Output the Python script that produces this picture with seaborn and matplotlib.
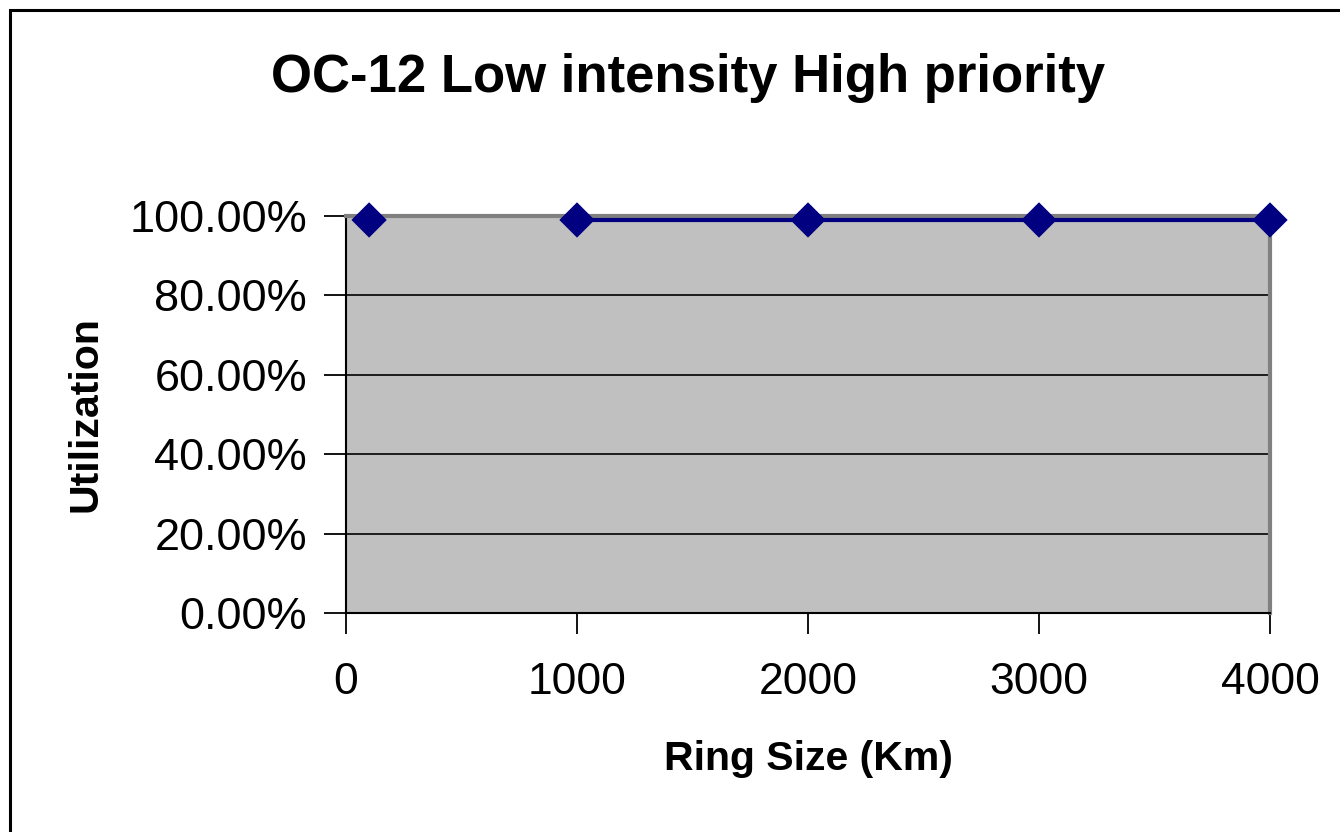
import matplotlib
matplotlib.use("Agg")
import matplotlib.pyplot as plt
import matplotlib.ticker as mticker
from matplotlib.patches import Rectangle
import seaborn as sns
import pandas as pd

# Ring sizes (km) and measured utilization
ring_size = [100, 1000, 2000, 3000, 4000]
utilization = [0.99, 0.99, 0.99, 0.99, 0.99]
# The connecting line only runs from 1000 km onward
line_from = 1

x_ticks = [0, 1000, 2000, 3000, 4000]
y_ticks = [0.0, 0.2, 0.4, 0.6, 0.8, 1.0]

sns.set_theme(style="white")
plt.rcParams["font.family"] = ["Liberation Sans", "DejaVu Sans"]
plt.rcParams["text.color"] = "black"
plt.rcParams["axes.labelcolor"] = "black"
plt.rcParams["xtick.color"] = "black"
plt.rcParams["ytick.color"] = "black"

df = pd.DataFrame({"ring": ring_size, "util": utilization})
line_df = df.iloc[line_from:]

fig = plt.figure(figsize=(13.4, 8.32), dpi=100)
fig.patch.set_facecolor("white")
# outer frame of the chart area
fig.add_artist(Rectangle((10 / 1340, -0.1), 1.2, 1 - 10 / 832 + 0.1,
                         transform=fig.transFigure, fill=False,
                         edgecolor="black", linewidth=2.2))

ax = fig.add_axes([346 / 1340, 1 - 613 / 832, 924 / 1340, 397 / 832])
ax.set_facecolor("#C0C0C0")

sns.lineplot(data=line_df, x="ring", y="util", ax=ax, color="#000080",
             linewidth=3, zorder=3)
sns.scatterplot(data=df, x="ring", y="util", ax=ax, color="#000080",
                marker="D", s=18 ** 2, edgecolor="none", zorder=4,
                clip_on=False)

ax.set_xlim(0, 4000)
ax.set_ylim(0, 1.0)
ax.set_xticks(x_ticks)
ax.set_yticks(y_ticks)
ax.yaxis.set_major_formatter(mticker.PercentFormatter(xmax=1.0, decimals=2))
ax.grid(axis="y", color="black", linewidth=1.2)
ax.grid(axis="x", visible=False)
ax.set_axisbelow(True)

for side in ("top", "right"):
    ax.spines[side].set_color("#808080")
    ax.spines[side].set_linewidth(3)
for side in ("left", "bottom"):
    ax.spines[side].set_color("black")
    ax.spines[side].set_linewidth(1.5)
    ax.spines[side].set_zorder(2.5)

ax.tick_params(axis="y", direction="out", length=16, width=1.3, color="black",
               left=True, labelsize=32.5, pad=12, labelcolor="black")
ax.tick_params(axis="x", direction="out", length=15, width=1.3, color="black",
               bottom=True, labelsize=32, pad=20, labelcolor="black")

ax.set_xlabel("Ring Size (Km)", fontsize=29.5, fontweight="bold", labelpad=27)
ax.set_ylabel("Utilization", fontsize=29.5, fontweight="bold", labelpad=18)

fig.text(688 / 1340, 1 - 78 / 832, "OC-12 Low intensity High priority",
         ha="center", va="center", fontsize=38, fontweight="bold")

fig.savefig("out.png", dpi=100, facecolor="white")
